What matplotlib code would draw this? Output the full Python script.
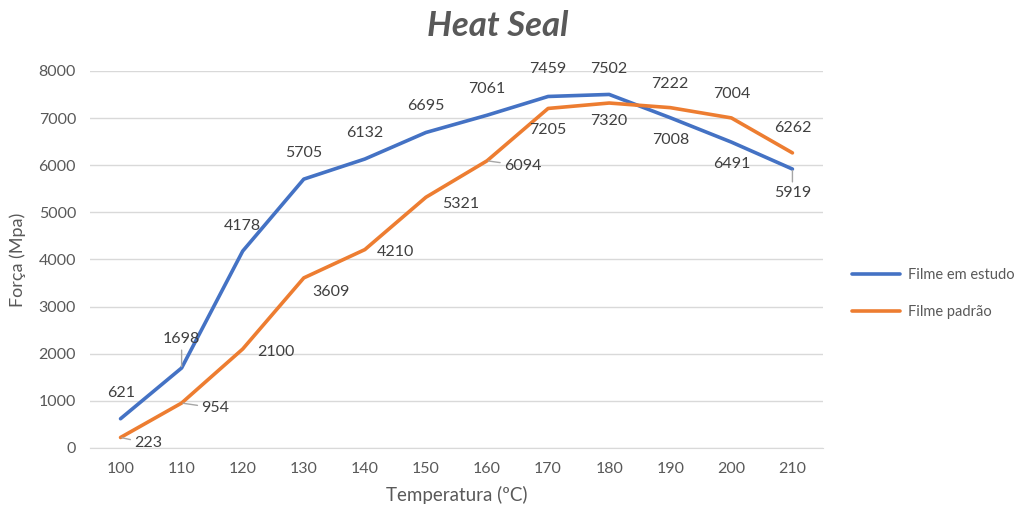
import matplotlib.pyplot as plt

temps = [100, 110, 120, 130, 140, 150, 160, 170, 180, 190, 200, 210]
filme_estudo = [621, 1698, 4178, 5705, 6132, 6695, 7061, 7459, 7502, 7008, 6491, 5919]
filme_padrao = [223, 954, 2100, 3609, 4210, 5321, 6094, 7205, 7320, 7222, 7004, 6262]

# label offsets in pixels (dx, dy) relative to each point, plus whether a leader line is drawn
off_estudo = [(1, 26), (0, 29), (0, 25), (0, 26), (0, 26), (0, 26), (0, 26), (0, 27), (0, 25),
              (0, -22), (0, -22), (0, -24)]
lead_estudo = [False, True, False, False, False, False, False, False, False, False, False, True]
off_padrao = [(28, -6), (34, -5), (33, -3), (27, -14), (31, -2), (35, -7), (36, -5), (0, -22),
              (0, -18), (0, 24), (0, 24), (0, 25)]
lead_padrao = [True, True, False, False, False, False, True, False, False, False, False, False]

plt.rcParams['font.family'] = ['Lato', 'DejaVu Sans']
blue = '#4472C4'
orange = '#ED7D31'
txt = '#404040'
grey = '#595959'

fig = plt.figure(figsize=(10.25, 5.11), dpi=100)
ax = fig.add_axes([0.0878, 0.1233, 0.7151, 0.7378])

ax.plot(temps, filme_estudo, color=blue, lw=2.6, label='Filme em estudo', solid_capstyle='round')
ax.plot(temps, filme_padrao, color=orange, lw=2.6, label='Filme padrão', solid_capstyle='round')


def add_labels(vals, offs, leads):
    for t, v, (dx, dy), lead in zip(temps, vals, offs, leads):
        props = None
        if lead:
            props = dict(arrowstyle='-', color='#A6A6A6', lw=1, shrinkA=1, shrinkB=1)
        ax.annotate(str(v), (t, v), xytext=(dx, dy), textcoords='offset pixels',
                    ha='center', va='center', fontsize=11.5, color=txt, arrowprops=props)


add_labels(filme_estudo, off_estudo, lead_estudo)
add_labels(filme_padrao, off_padrao, lead_padrao)

ax.set_xlim(95, 215)
ax.set_ylim(0, 8000)
ax.set_xticks(temps)
ax.set_yticks(range(0, 8001, 1000))
ax.grid(axis='y', color='#D9D9D9', lw=1)
ax.set_axisbelow(True)
for s in ['top', 'right', 'left']:
    ax.spines[s].set_visible(False)
ax.spines['bottom'].set_color('#D9D9D9')
ax.tick_params(length=0, labelsize=11.5, labelcolor=grey, pad=10)

ax.set_xlabel('Temperatura (ºC)', fontsize=13.5, color=grey, labelpad=7)
ax.set_ylabel('Força (Mpa)', fontsize=13, color=grey, labelpad=9)
fig.text(0.486, 0.95, 'Heat Seal', ha='center', va='center', fontsize=25,
         fontweight='bold', fontstyle='italic', color=grey)

fig.legend(loc='center left', bbox_to_anchor=(0.818, 0.425), frameon=False,
           fontsize=10.5, labelcolor=grey, handlelength=3.3, handletextpad=0.6,
           labelspacing=1.6)

fig.savefig('out.png', dpi=100)
